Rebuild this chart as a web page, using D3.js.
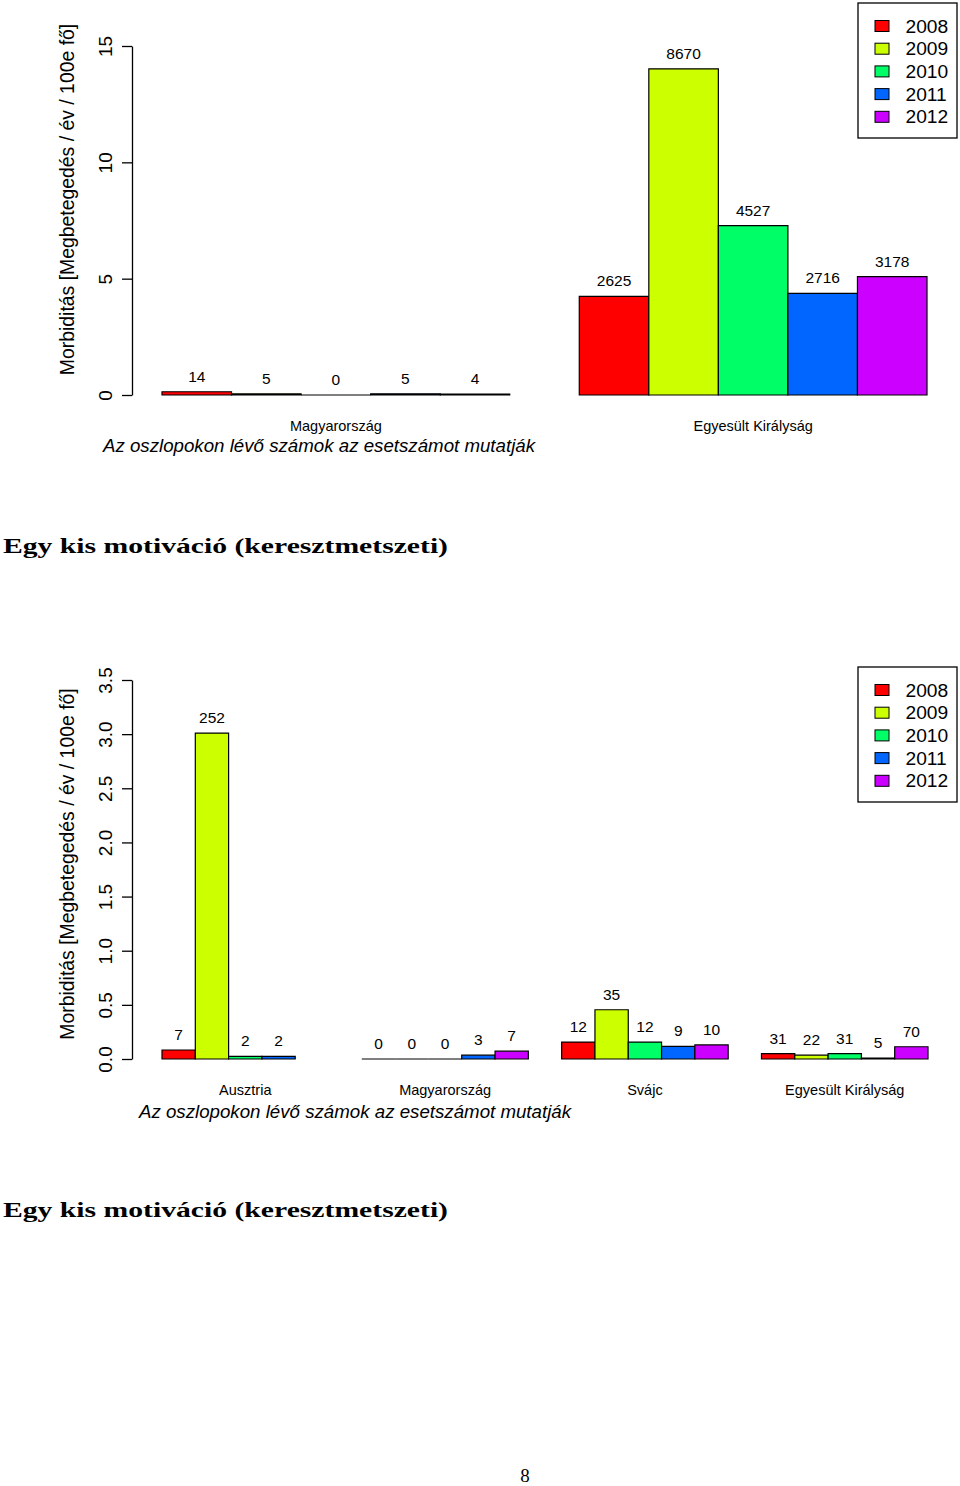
<!DOCTYPE html>
<html>
<head>
<meta charset="utf-8">
<script src="https://cdn.jsdelivr.net/npm/d3@7"></script>
<style>
  html, body { margin: 0; padding: 0; background: #fff; }
  svg { display: block; }
  text { font-family: "Liberation Sans", Arial, Helvetica, sans-serif; fill: #000; }
  text.serif { font-family: "Liberation Serif", "DejaVu Serif", serif; }
</style>
</head>
<body>
<svg id="chart" width="960" height="1486"></svg>
<script>
// ---------- data ----------
const years = ["2008", "2009", "2010", "2011", "2012"];
const yearColors = ["#FF0000", "#CCFF00", "#00FF66", "#0066FF", "#CC00FF"];

// chart 1
const topCountries = ["Magyarország", "Egyesült Királyság"];
const topRates = [
  [0.14, 0.05, 0.0, 0.05, 0.04],
  [4.24, 14.02, 7.28, 4.37, 5.09]
];
const topCounts = [
  [14, 5, 0, 5, 4],
  [2625, 8670, 4527, 2716, 3178]
];
const topTicks = [0, 5, 10, 15];
const topTickLabels = ["0", "5", "10", "15"];

// chart 2
const botCountries = ["Ausztria", "Magyarország", "Svájc", "Egyesült Királyság"];
const botRates = [
  [0.083, 3.01, 0.024, 0.024, null],
  [0.0, 0.0, 0.0, 0.035, 0.072],
  [0.156, 0.455, 0.156, 0.117, 0.13],
  [0.05, 0.035, 0.05, 0.008, 0.113]
];
const botCounts = [
  [7, 252, 2, 2, null],
  [0, 0, 0, 3, 7],
  [12, 35, 12, 9, 10],
  [31, 22, 31, 5, 70]
];
const botTicks = [0, 0.5, 1.0, 1.5, 2.0, 2.5, 3.0, 3.5];
const botTickLabels = ["0.0", "0.5", "1.0", "1.5", "2.0", "2.5", "3.0", "3.5"];

const yLabel = "Morbiditás [Megbetegedés / év / 100e fő]";
const subText = "Az oszlopokon lévő számok az esetszámot mutatják";
const titleText = "Egy kis motiváció (keresztmetszeti)";
const pageNumber = "8";

// ---------- drawing ----------
const svg = d3.select("#chart");

function drawChart(cfg) {
  const g = svg.append("g");
  const y = d3.scaleLinear().domain(cfg.yDomain).range(cfg.yRange);
  const x0 = d3.scaleBand().domain(cfg.countries).range(cfg.xRange)
    .paddingInner(1 / 6).paddingOuter(0);
  const x1 = d3.scaleBand().domain(years).range([0, x0.bandwidth()]).padding(0);
  const color = d3.scaleOrdinal().domain(years).range(yearColors);

  // bars
  cfg.countries.forEach((c, i) => {
    const grp = g.append("g").attr("transform", `translate(${x0(c)},0)`);
    years.forEach((yr, j) => {
      const v = cfg.rates[i][j];
      if (v === null) return;
      const xa = x1(yr), xb = xa + x1.bandwidth();
      const ya = y(0), yb = y(v);
      grp.append("path")
        .attr("d", `M${xa},${ya}L${xb},${ya}L${xb},${yb}L${xa},${yb}Z`)
        .attr("fill", color(yr))
        .attr("stroke", "#000")
        .attr("stroke-width", 1.2);
      grp.append("text")
        .attr("x", xa + x1.bandwidth() / 2)
        .attr("y", yb - 10)
        .attr("text-anchor", "middle")
        .attr("font-size", 15.5)
        .text(cfg.counts[i][j]);
    });
    g.append("text")
      .attr("x", x0(c) + x0.bandwidth() / 2)
      .attr("y", cfg.catY)
      .attr("text-anchor", "middle")
      .attr("font-size", 14.5)
      .text(c);
  });

  // y axis
  const ax = g.append("g")
    .attr("transform", `translate(${cfg.axisX},0)`)
    .call(d3.axisLeft(y).tickValues(cfg.ticks).tickSize(10).tickSizeOuter(0)
      .tickFormat((d, i) => cfg.tickLabels[i]));
  ax.select(".domain").attr("stroke", "#000").attr("stroke-width", 1.3);
  ax.selectAll(".tick line").attr("stroke", "#000").attr("stroke-width", 1.3);
  ax.selectAll(".tick text")
    .attr("transform", "rotate(-90)")
    .attr("x", 0).attr("y", -20).attr("dy", null)
    .attr("text-anchor", "middle")
    .attr("font-size", 19)
    .attr("fill", "#000");

  // y label
  g.append("text")
    .attr("transform", `translate(74,${cfg.yLabelCenter}) rotate(-90)`)
    .attr("text-anchor", "middle")
    .attr("font-size", 19.4)
    .text(yLabel);

  // sub text
  g.append("text")
    .attr("x", cfg.subX).attr("y", cfg.subY)
    .attr("text-anchor", "middle")
    .attr("font-size", 18.7)
    .attr("font-style", "italic")
    .text(subText);

  // legend
  const lg = g.append("g");
  lg.append("rect")
    .attr("x", 858).attr("y", cfg.legTop)
    .attr("width", 99).attr("height", 135)
    .attr("fill", "#fff").attr("stroke", "#000").attr("stroke-width", 1.3);
  years.forEach((yr, j) => {
    const base = cfg.legTop + 29.5 + j * 22.7;
    lg.append("rect")
      .attr("x", 875).attr("y", base - 12)
      .attr("width", 14).attr("height", 11)
      .attr("fill", color(yr)).attr("stroke", "#000").attr("stroke-width", 1);
    lg.append("text")
      .attr("x", 905.5).attr("y", base)
      .attr("font-size", 19.2)
      .text(yr);
  });
}

drawChart({
  countries: topCountries, rates: topRates, counts: topCounts,
  ticks: topTicks, tickLabels: topTickLabels,
  yDomain: [0, 15], yRange: [395, 46], xRange: [162, 927], axisX: 132,
  catY: 431, yLabelCenter: 199.5, subX: 319, subY: 452, legTop: 3
});

drawChart({
  countries: botCountries, rates: botRates, counts: botCounts,
  ticks: botTicks, tickLabels: botTickLabels,
  yDomain: [0, 3.5], yRange: [1059, 680], xRange: [162, 928], axisX: 132,
  catY: 1095, yLabelCenter: 864, subX: 355, subY: 1118, legTop: 667
});

// section titles
[553, 1217].forEach(ty => {
  svg.append("text")
    .attr("class", "serif")
    .attr("x", 3).attr("y", ty)
    .attr("font-weight", "bold")
    .attr("font-size", 21)
    .attr("textLength", 445).attr("lengthAdjust", "spacingAndGlyphs")
    .text(titleText);
});

svg.append("text")
  .attr("class", "serif")
  .attr("x", 525).attr("y", 1482)
  .attr("text-anchor", "middle")
  .attr("font-size", 19)
  .text(pageNumber);
</script>
</body>
</html>
